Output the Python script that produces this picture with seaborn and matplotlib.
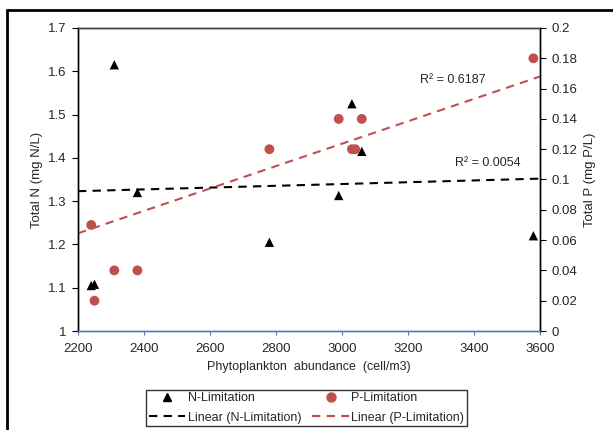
import numpy as np
import matplotlib
matplotlib.use("Agg")
import matplotlib.pyplot as plt
from matplotlib.lines import Line2D
import seaborn as sns
import pandas as pd

sns.set_style("white")
plt.rcParams['font.family'] = ['Liberation Sans', 'DejaVu Sans']
plt.rcParams['font.size'] = 9

# data
n_abund = [2240, 2250, 2310, 2380, 2780, 2990, 3030, 3060, 3580]
n_total = [1.105, 1.108, 1.615, 1.32, 1.205, 1.313, 1.525, 1.415, 1.22]
p_abund = [2240, 2250, 2310, 2380, 2780, 2990, 3030, 3040, 3060, 3580]
p_total = [0.07, 0.02, 0.04, 0.04, 0.12, 0.14, 0.12, 0.12, 0.14, 0.18]

# linear trendlines (end points)
trend_x = [2200, 3600]
trend_n = [1.323, 1.352]
trend_p = [0.0645, 0.168]
r2_labels = ['R² = 0.0054', 'R² = 0.6187']

df_n = pd.DataFrame({'x': n_abund, 'y': n_total})
df_p = pd.DataFrame({'x': p_abund, 'y': p_total})
df_tn = pd.DataFrame({'x': trend_x, 'y': trend_n})
df_tp = pd.DataFrame({'x': trend_x, 'y': trend_p})

red = '#C0504D'
blue = '#4A7EBB'
dash = (0, (4, 3))

fig = plt.figure(figsize=(6.13, 4.30), dpi=100)
ax = fig.add_axes([78/613, 1-331/430, 462/613, 303/430])
ax2 = ax.twinx()

sns.scatterplot(data=df_n, x='x', y='y', ax=ax, marker='^', color='black',
                s=45, edgecolor='none', zorder=3)
sns.lineplot(data=df_tn, x='x', y='y', ax=ax, color='black', lw=1.5,
             linestyle=dash, zorder=2)

sns.scatterplot(data=df_p, x='x', y='y', ax=ax2, marker='o', color=red,
                s=50, edgecolor='none', zorder=3)
sns.lineplot(data=df_tp, x='x', y='y', ax=ax2, color=red, lw=1.5,
             linestyle=dash, zorder=2)

ax.set_xlim(2200, 3600)
ax.set_ylim(1, 1.7)
ax2.set_ylim(0, 0.2)

ax.set_xticks(np.arange(2200, 3601, 200))
ax.set_yticks(np.arange(1, 1.71, 0.1))
ax.set_yticklabels(['1', '1.1', '1.2', '1.3', '1.4', '1.5', '1.6', '1.7'])
ax2.set_yticks(np.arange(0, 0.201, 0.02))
ax2.set_yticklabels(['0', '0.02', '0.04', '0.06', '0.08', '0.1', '0.12',
                     '0.14', '0.16', '0.18', '0.2'])

ax.set_xlabel('Phytoplankton  abundance  (cell/m3)', labelpad=4, fontsize=9)
ax.set_ylabel('Total N (mg N/L)', labelpad=4, fontsize=9.5)
ax2.set_ylabel('Total P (mg P/L)', labelpad=5, fontsize=9.5)

for a in (ax, ax2):
    for s in a.spines.values():
        s.set_linewidth(1.0)
    a.spines['top'].set_color('#404040')
    a.spines['left'].set_color('black')
    a.spines['right'].set_color('black')
    a.spines['bottom'].set_color(blue)
    a.grid(False)

ax.tick_params(axis='x', direction='out', length=3, color=blue, pad=6, labelsize=9.5)
ax.tick_params(axis='y', direction='out', length=4, color='black', pad=4, labelsize=9.5)
ax2.tick_params(axis='y', direction='out', length=4, color='black', pad=4, labelsize=9.5)
ax.tick_params(left=True, bottom=True)
ax2.tick_params(right=True)

ax.text(3342, 1.388, r2_labels[0], fontsize=9, va='center')
ax.text(3236, 1.58, r2_labels[1], fontsize=9, va='center')

handles = [
    Line2D([], [], marker='^', color='black', ls='none', markersize=6),
    Line2D([], [], color='black', ls=dash, lw=1.5),
    Line2D([], [], marker='o', color=red, ls='none', markersize=6.5),
    Line2D([], [], color=red, ls=dash, lw=1.5),
]
labels = ['N-Limitation', 'Linear (N-Limitation)', 'P-Limitation', 'Linear (P-Limitation)']
leg = fig.legend(handles, labels, ncol=2, loc='center', bbox_to_anchor=(0.5, 1-408/430),
                 frameon=True, fancybox=False, edgecolor='black', fontsize=9,
                 handlelength=2.9, handletextpad=0.2, columnspacing=0.9,
                 labelspacing=0.6, borderpad=0.2, borderaxespad=0)
leg.get_frame().set_linewidth(1.0)

# outer chart border (left and top edges visible)
fig.add_artist(Line2D([7/613, 7/613], [0, 1-10/430], color='black', lw=2))
fig.add_artist(Line2D([7/613, 1], [1-10/430, 1-10/430], color='black', lw=2))

fig.savefig('out.png', dpi=100)
